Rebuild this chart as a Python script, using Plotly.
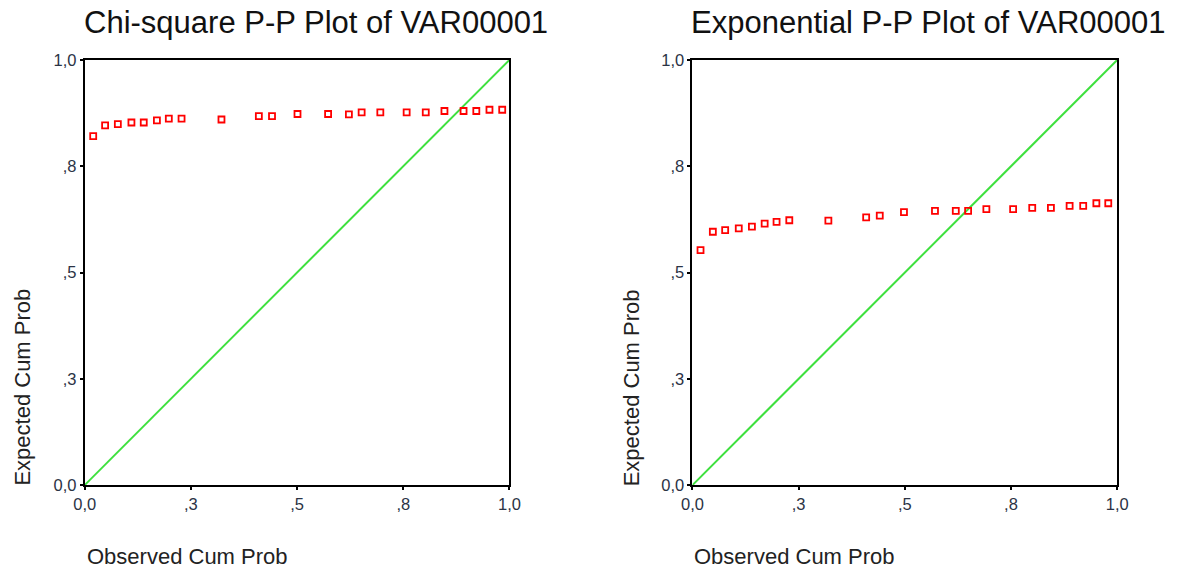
import plotly.graph_objects as go

# Chi-square P-P plot data
chi_obs = [0.020, 0.048, 0.078, 0.110, 0.139, 0.170, 0.198, 0.228, 0.322, 0.410, 0.441,
           0.501, 0.573, 0.622, 0.652, 0.696, 0.758, 0.803, 0.847, 0.892, 0.922, 0.953, 0.983]
chi_exp = [0.821, 0.846, 0.849, 0.853, 0.853, 0.858, 0.862, 0.862, 0.860, 0.868, 0.868,
           0.873, 0.873, 0.872, 0.877, 0.877, 0.877, 0.877, 0.880, 0.880, 0.880, 0.883, 0.883]

# Exponential P-P plot data
exp_obs = [0.019, 0.048, 0.077, 0.109, 0.140, 0.170, 0.198, 0.228, 0.320, 0.409, 0.441,
           0.498, 0.571, 0.620, 0.649, 0.692, 0.755, 0.800, 0.844, 0.888, 0.920, 0.951, 0.979]
exp_exp = [0.553, 0.596, 0.600, 0.604, 0.608, 0.615, 0.619, 0.623, 0.622, 0.630, 0.634,
           0.642, 0.645, 0.645, 0.645, 0.649, 0.649, 0.652, 0.652, 0.657, 0.657, 0.663, 0.663]

tick_vals = [0, 0.25, 0.5, 0.75, 1.0]
tick_text = ["0,0", ",3", ",5", ",8", "1,0"]
diag = [0, 1]

titles = ["Chi-square P-P Plot of VAR00001", "Exponential P-P Plot of VAR00001"]
x_title = "Observed Cum Prob"
y_title = "Expected Cum Prob"

W, H = 1182, 574
OFF = 8
SX = W / (W + 2 * OFF)
SY = H / (H + 2 * OFF)
left_px = [(82, 509), (693, 1120)]
top_px, bot_px = 59, 486


def px_x(p):
    return (p / SX - OFF) / W


def px_y(p):
    return 1 - (p / SY - OFF) / H


fig = go.Figure()
datasets = [(chi_obs, chi_exp), (exp_obs, exp_exp)]
font_fam = "Liberation Sans, Arial, sans-serif"

for i, (xs, ys) in enumerate(datasets):
    xa = "x" if i == 0 else "x2"
    ya = "y" if i == 0 else "y2"
    fig.add_trace(go.Scatter(x=diag, y=diag, mode="lines", xaxis=xa, yaxis=ya,
                             line=dict(color="#3ee03e", width=2), showlegend=False, hoverinfo="skip"))
    fig.add_trace(go.Scatter(x=xs, y=ys, mode="markers", xaxis=xa, yaxis=ya,
                             marker=dict(symbol="square-open", size=6, color="#ff0000",
                                         line=dict(width=1.8, color="#ff0000")),
                             showlegend=False))

axis_common = dict(range=[0, 1], tickvals=tick_vals, ticktext=tick_text, showgrid=False,
                   zeroline=False, showline=True, linecolor="black", linewidth=2, mirror=True,
                   ticks="outside", ticklen=3, tickwidth=2, tickcolor="black",
                   tickfont=dict(family=font_fam, size=16.5, color="#2b3345"), fixedrange=True)

layout = dict(width=W, height=H, autosize=False, margin=dict(l=0, r=0, t=0, b=0),
              plot_bgcolor="white", paper_bgcolor="white", showlegend=False)

for i, (l, r) in enumerate(left_px):
    sx = "" if i == 0 else "2"
    dom_x = [px_x(l), px_x(r)]
    dom_y = [px_y(bot_px), px_y(top_px)]
    layout["xaxis" + sx] = dict(axis_common, domain=dom_x, anchor="y" + sx)
    layout["yaxis" + sx] = dict(axis_common, domain=dom_y, anchor="x" + sx)

fig.update_layout(**layout)

annotations = []
title_cx = [315, 930]
ytitle_cx = [20, 632]
for i, (l, r) in enumerate(left_px):
    annotations.append(dict(text=titles[i], x=px_x(title_cx[i]), y=px_y(21), xref="paper", yref="paper",
                            xanchor="center", yanchor="middle", showarrow=False,
                            font=dict(family=font_fam, size=31, color="#111")))
    annotations.append(dict(text=x_title, x=px_x(l), y=px_y(558), xref="paper", yref="paper",
                            xanchor="left", yanchor="middle", showarrow=False,
                            font=dict(family=font_fam, size=22, color="#222")))
    annotations.append(dict(text=y_title, x=px_x(ytitle_cx[i]), y=px_y(388), xref="paper", yref="paper",
                            xanchor="center", yanchor="middle", showarrow=False, textangle=-90,
                            font=dict(family=font_fam, size=22, color="#222")))
fig.update_layout(annotations=annotations)

fig.write_html("out.html")
